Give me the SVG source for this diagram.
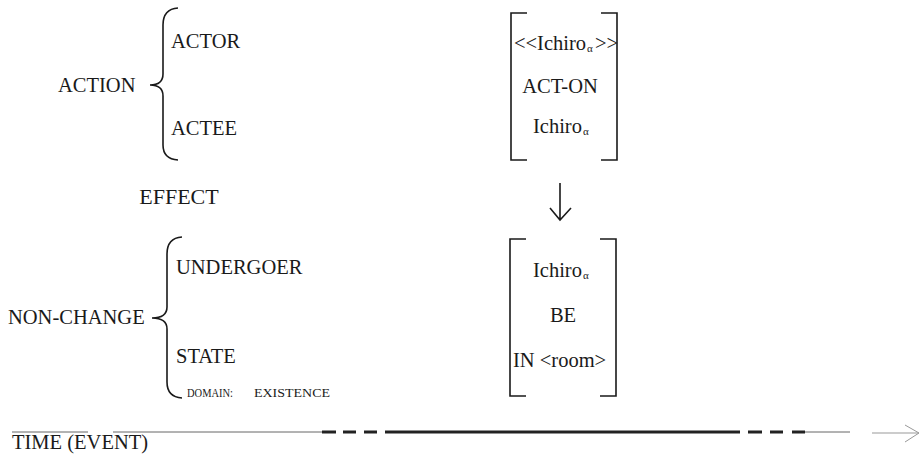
<svg xmlns="http://www.w3.org/2000/svg" width="920" height="464" viewBox="0 0 920 464">
<style>
.t{fill:#1a1a1a;font-size:20.5px}
.c{text-anchor:middle}
.sm{font-size:12px}
.sub{font-size:11px}
.br{fill:none;stroke:#1a1a1a;stroke-width:1.6}
.thin{stroke:#666;stroke-width:1;fill:none}
.thick{stroke:#222;stroke-width:3.2;fill:none}
</style>
<rect width="920" height="464" fill="#fff"/>
<g font-family="Liberation Serif" class="t">
<g id="action">
<text x="58" y="92">ACTION</text>
<path class="br" d="M178,8 Q163,9 163,25 L163,74 Q163,85 150,85 Q163,85 163,96 L163,145 Q163,159 178,160"/>
<text x="171" y="48">ACTOR</text>
<text x="171" y="135">ACTEE</text>
</g>
<g id="effect">
<text x="179" y="204" class="c" font-size="22">EFFECT</text>
</g>
<g id="nonchange">
<text x="8" y="324">NON-CHANGE</text>
<path class="br" d="M182,237 Q167,238 167,254 L167,307 Q167,318 152,318 Q167,318 167,329 L167,382 Q167,397 182,398"/>
<text x="176" y="274">UNDERGOER</text>
<text x="176" y="363">STATE</text>
<text class="sm" x="187" y="397" textLength="46" lengthAdjust="spacingAndGlyphs">DOMAIN:</text>
<text class="sm" x="254" y="397" textLength="76" lengthAdjust="spacingAndGlyphs">EXISTENCE</text>
</g>
<g id="frame1">
<path class="br" d="M527,13 H511 V160 H527 M601,13 H617 V160 H601"/>
<text x="514" y="50">&lt;&lt;Ichiro</text><text class="sub" x="587" y="52">α</text><text x="595" y="50">&gt;&gt;</text>
<text class="c" x="560" y="93">ACT-ON</text>
<text x="533" y="133">Ichiro</text><text class="sub" x="583" y="135">α</text>
</g>
<g id="frame2">
<path class="br" d="M526,239 H510 V396 H526 M600,239 H616 V396 H600"/>
<text x="533" y="277">Ichiro</text><text class="sub" x="583" y="279">α</text>
<text class="c" x="563" y="322">BE</text>
<text x="513" y="367">IN &lt;room&gt;</text>
</g>
<g id="connectors">
<path class="br" d="M560,183 V219 M550,208 L560,220 L571,208"/>
</g>
<g id="timeline">
<path class="thin" d="M12,432 H88 M113,432 H322"/>
<path class="thick" d="M322,432 H336 M343,432 H356 M364,432 H377 M385,432 H740 M748,432 H762 M770,432 H783 M792,432 H805"/>
<path class="thin" d="M805,432 H850"/>
<path class="thin" style="stroke:#999" d="M872,433 H919 M905,425 L919,433 L905,442"/>
<text x="12" y="449">TIME (EVENT)</text>
</g>
</g>
</svg>
